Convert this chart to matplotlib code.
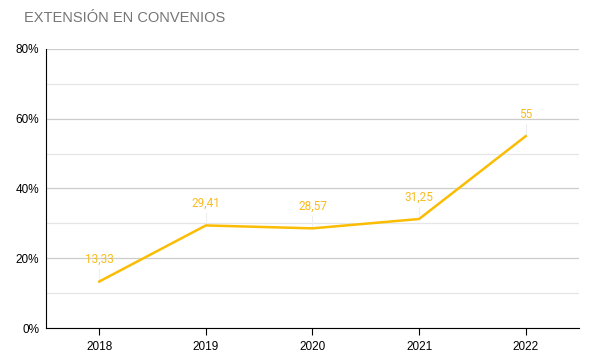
import matplotlib.pyplot as plt
from matplotlib.ticker import MultipleLocator

plt.rcParams['font.family'] = ['Liberation Sans', 'DejaVu Sans']

years = ["2018", "2019", "2020", "2021", "2022"]
values = [13.33, 29.41, 28.57, 31.25, 55]
labels = ["13,33", "29,41", "28,57", "31,25", "55"]

fig = plt.figure(figsize=(5.94, 3.64), dpi=100)
ax = fig.add_axes([0.0774, 0.0989, 0.8973, 0.7665])

x = range(len(years))
ax.plot(x, values, color="#fbbc04", lw=1.8, zorder=3)

for i, (v, lab) in enumerate(zip(values, labels)):
    ax.plot([i, i], [v, v + 3.5], color="#eeeeee", lw=0.8, zorder=2)
    ax.annotate(lab, (i, v), xytext=(0, 11), textcoords="offset points",
                ha="center", va="bottom", color="#f9bc1e", fontsize=8.5,
                family=["Roboto", "DejaVu Sans"])

ax.set_xlim(-0.5, 4.5)
ax.set_ylim(0, 80)
ax.set_xticks(list(x))
ax.set_xticklabels(years)
ax.yaxis.set_major_locator(MultipleLocator(20))
ax.yaxis.set_minor_locator(MultipleLocator(10))
ax.set_yticklabels([f"{int(t)}%" for t in ax.get_yticks()])
ax.grid(axis="y", which="major", color="#cccccc", lw=0.9)
ax.grid(axis="y", which="minor", color="#e6e6e6", lw=0.9)
ax.set_axisbelow(True)

for s in ["top", "right"]:
    ax.spines[s].set_visible(False)
ax.spines["left"].set_color("black")
ax.spines["bottom"].set_color("black")
ax.tick_params(axis="y", which="both", length=0, labelsize=8.5, pad=5)
ax.tick_params(axis="x", length=5, labelsize=8.5, pad=4)

fig.text(24 / 594, 1 - 18 / 364, "EXTENSIÓN EN CONVENIOS", color="#757575",
         fontsize=10.5, va="center", ha="left")

fig.savefig("out.png", dpi=100)
